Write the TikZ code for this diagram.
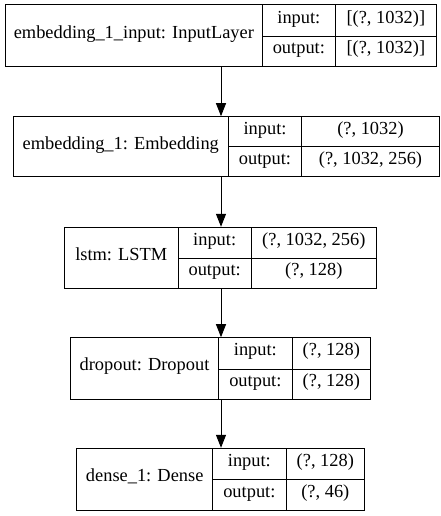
\documentclass[tikz,border=0pt]{standalone}
\usepackage{fontspec}
\setmainfont{Liberation Serif}
\usetikzlibrary{arrows.meta}
\tikzset{
  recbox/.style={draw, line width=1pt, inner sep=0pt, rectangle},
  cellline/.style={line width=1pt},
  txt/.style={inner sep=0pt, font=\fontsize{18.4pt}{21pt}\selectfont, text height=0.72em, text depth=0.24em, anchor=center},
  flow/.style={line width=1pt, -{Triangle[length=13pt,width=10pt]}},
}
\newcommand\myrec[9]{%
  % #1 name, #2 left, #3 top, #4 right, #5 bottom, #6 d1, #7 d2, #8 mid, #9 label
  \node[recbox, minimum width={#4-#2}, minimum height={#5-#3}] (#1) at ({(#2+#4)/2},{(#3+#5)/2}) {};
  \draw[cellline] (#6,#3) -- (#6,#5);
  \draw[cellline] (#7,#3) -- (#7,#5);
  \draw[cellline] (#6,#8) -- (#4,#8);
  \node[txt] (#1n) at ({(#2+#6)/2},{(#3+#5)/2}) {#9};
  \node[txt] (#1i) at ({(#6+#7)/2},{(#3+#8)/2}) {input:};
  \node[txt] (#1o) at ({(#6+#7)/2},{(#8+#5)/2}) {output:};
}
\begin{document}
\begin{tikzpicture}[x=1pt,y=-1pt]
\useasboundingbox (0,0) rectangle (441,516);
\coordinate (ax) at (221,0);
\myrec{r1}{5}{5}{436.7}{66.7}{262.7}{335}{36.3}{embedding\_1\_input: InputLayer}
\node[txt] (r1a) at ({(335+436.7)/2},{(5+36.3)/2}) {[(?, 1032)]};
\node[txt] (r1b) at ({(335+436.7)/2},{(36.3+66.7)/2}) {[(?, 1032)]};
\myrec{r2}{13.3}{116.7}{439.3}{176.7}{228.3}{301.7}{146.7}{embedding\_1: Embedding}
\node[txt] (r2a) at ({(301.7+439.3)/2},{(116.7+146.7)/2}) {(?, 1032)};
\node[txt] (r2b) at ({(301.7+439.3)/2},{(146.7+176.7)/2}) {(?, 1032, 256)};
\myrec{r3}{64.3}{227.3}{376.7}{288.3}{178.3}{251}{258.3}{lstm: LSTM}
\node[txt] (r3a) at ({(251+376.7)/2},{(227.3+258.3)/2}) {(?, 1032, 256)};
\node[txt] (r3b) at ({(251+376.7)/2},{(258.3+288.3)/2}) {(?, 128)};
\myrec{r4}{70.3}{337.7}{370.7}{399.3}{218.7}{292}{369}{dropout: Dropout}
\node[txt] (r4a) at ({(292+370.7)/2},{(337.7+369)/2}) {(?, 128)};
\node[txt] (r4b) at ({(292+370.7)/2},{(369+399.3)/2}) {(?, 128)};
\myrec{r5}{76.7}{448.3}{364.7}{510}{212.7}{286}{479.3}{dense\_1: Dense}
\node[txt] (r5a) at ({(286+364.7)/2},{(448.3+479.3)/2}) {(?, 128)};
\node[txt] (r5b) at ({(286+364.7)/2},{(479.3+510)/2}) {(?, 46)};
\draw[flow] (r1.south -| ax) -- (r2.north -| ax);
\draw[flow] (r2.south -| ax) -- (r3.north -| ax);
\draw[flow] (r3.south -| ax) -- (r4.north -| ax);
\draw[flow] (r4.south -| ax) -- (r5.north -| ax);
\end{tikzpicture}
\end{document}
